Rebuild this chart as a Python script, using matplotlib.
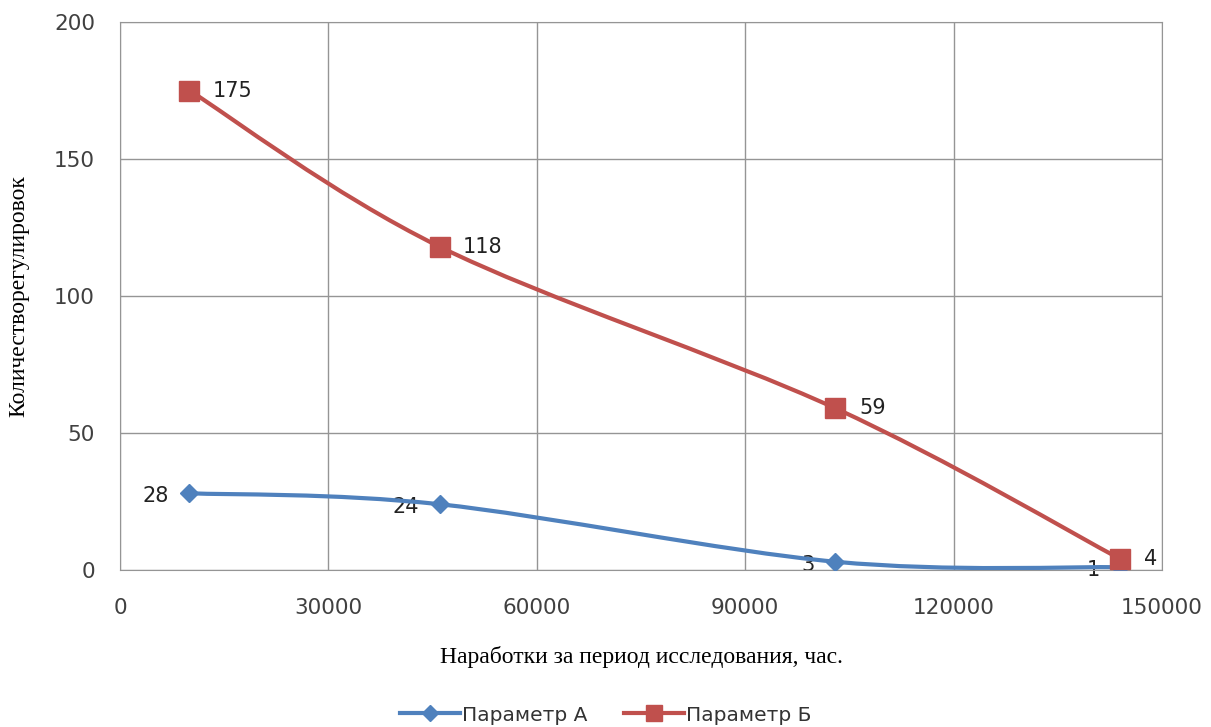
import numpy as np
import matplotlib
matplotlib.use('Agg')
import matplotlib.pyplot as plt
from matplotlib.path import Path
from matplotlib.patches import PathPatch

#данные
hours=[10000,46000,103000,144000]
param_a=[28,24,3,1]
param_b=[175,118,59,4]
x_ticks=[0,30000,60000,90000,120000,150000]
y_ticks=[0,50,100,150,200]

BLUE='#4F81BD'
RED='#C0504D'
GRID='#959595'

#сглаженная линия как в Excel (кривые Безье)
def smooth_path(xs,ys):
    pts=np.column_stack([xs,ys]).astype(float)
    n=len(pts)
    verts=[pts[0]]
    codes=[Path.MOVETO]
    for i in range(n-1):
        p0=pts[i-1] if i>0 else pts[i]
        p1=pts[i]
        p2=pts[i+1]
        p3=pts[i+2] if i+2<n else pts[i+1]
        c1=p1+(p2-p0)/6
        c2=p2-(p3-p1)/6
        verts+= [c1,c2,p2]
        codes+= [Path.CURVE4]*3
    return Path(verts,codes)

fig=plt.figure(figsize=(12.11,7.27),dpi=100)
ax=fig.add_axes([0.0991,0.216,0.8604,0.7537])
ax.set_xlim(0,150000)
ax.set_ylim(0,200)
ax.set_xticks(x_ticks)
ax.set_yticks(y_ticks)
ax.grid(True,color=GRID,linewidth=1)
ax.set_axisbelow(True)
for s in ax.spines.values():
    s.set_color(GRID)
ax.tick_params(length=0,labelsize=15.5,labelcolor='#404040',pad=18)
ax.tick_params(axis='x',pad=20)

ax.add_patch(PathPatch(smooth_path(hours,param_a),facecolor='none',edgecolor=BLUE,linewidth=3,zorder=3))
ax.add_patch(PathPatch(smooth_path(hours,param_b),facecolor='none',edgecolor=RED,linewidth=3,zorder=3))
ax.plot(hours,param_a,linestyle='none',marker='D',markersize=9,color=BLUE,zorder=4)
ax.plot(hours,param_b,linestyle='none',marker='s',markersize=14,color=RED,zorder=4)

#подписи значений
for x,y in zip(hours,param_a):
    ax.annotate(str(y),(x,y),xytext=(-15,-2),textcoords='offset points',ha='right',va='center',fontsize=15,color='#222222',zorder=2)
for x,y in zip(hours,param_b):
    ax.annotate(str(y),(x,y),xytext=(17,0),textcoords='offset points',ha='left',va='center',fontsize=15,color='#222222',zorder=5)

ax.set_xlabel('Наработки за период исследования, час.',family='Liberation Serif',fontsize=17,labelpad=20)
ax.set_ylabel('Количестворегулировок',family='Liberation Serif',fontsize=17,labelpad=18)

#легенда
h1,=ax.plot([],[],color=BLUE,linewidth=3,marker='D',markersize=8,label='Параметр А')
h2,=ax.plot([],[],color=RED,linewidth=3,marker='s',markersize=12,label='Параметр Б')
fig.legend(handles=[h1,h2],loc='center',bbox_to_anchor=(0.5,0.0165),ncol=2,frameon=False,fontsize=14.5,
           handlelength=3,handletextpad=0.1,columnspacing=1.8,labelcolor='#333333')

fig.savefig('out.png',dpi=100)
